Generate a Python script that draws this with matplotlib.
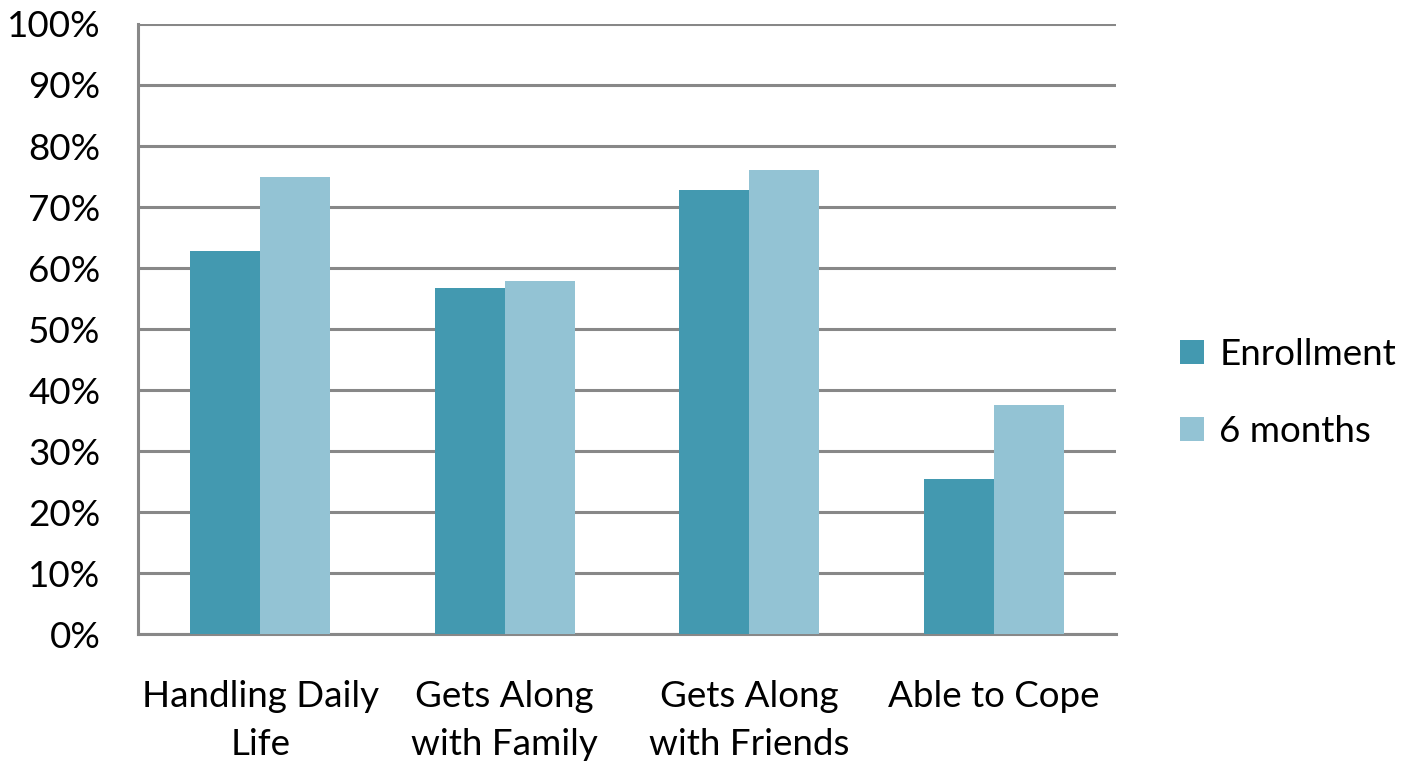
import matplotlib.pyplot as plt
import numpy as np

plt.rcParams['font.family'] = ['Lato', 'DejaVu Sans']

categories = ['Handling Daily\nLife', 'Gets Along\nwith Family', 'Gets Along\nwith Friends', 'Able to Cope']
enrollment = [62.8, 56.7, 72.8, 25.4]
six_months = [74.9, 57.9, 76.1, 37.5]
series_names = ['Enrollment', '6 months']

fig = plt.figure(figsize=(14.02, 7.69), dpi=100)
ax = fig.add_axes([0.0984, 0.1755, 0.6976, 0.7933])

x = np.arange(len(categories))
width = 0.286
ax.bar(x - width / 2, enrollment, width=width, color='#4399B0', label=series_names[0], zorder=3)
ax.bar(x + width / 2, six_months, width=width, color='#93C3D4', label=series_names[1], zorder=3)

ax.set_xlim(-0.5, len(categories) - 0.5)
ax.set_ylim(0, 100)
ax.set_yticks(range(0, 101, 10))
ax.set_yticklabels([f'{v}%' for v in range(0, 101, 10)])
ax.set_xticks(x)
ax.set_xticklabels(categories, linespacing=1.55)

ax.yaxis.grid(True, color='#888888', linewidth=2.2, zorder=0)
for s in ['top', 'right']:
    ax.spines[s].set_visible(False)
for s in ['left', 'bottom']:
    ax.spines[s].set_color('#888888')
    ax.spines[s].set_linewidth(2.2)
ax.tick_params(axis='both', length=0, labelsize=26.5)
ax.tick_params(axis='y', pad=27)
ax.tick_params(axis='x', pad=33)

ax.legend(loc='center left', bbox_to_anchor=(0.842, 0.489), bbox_transform=fig.transFigure,
          frameon=False, fontsize=26.5, handlelength=0.65, handleheight=0.65,
          handletextpad=0.4, labelspacing=1.2, borderpad=0, borderaxespad=0)

fig.savefig('out.png', dpi=100)
